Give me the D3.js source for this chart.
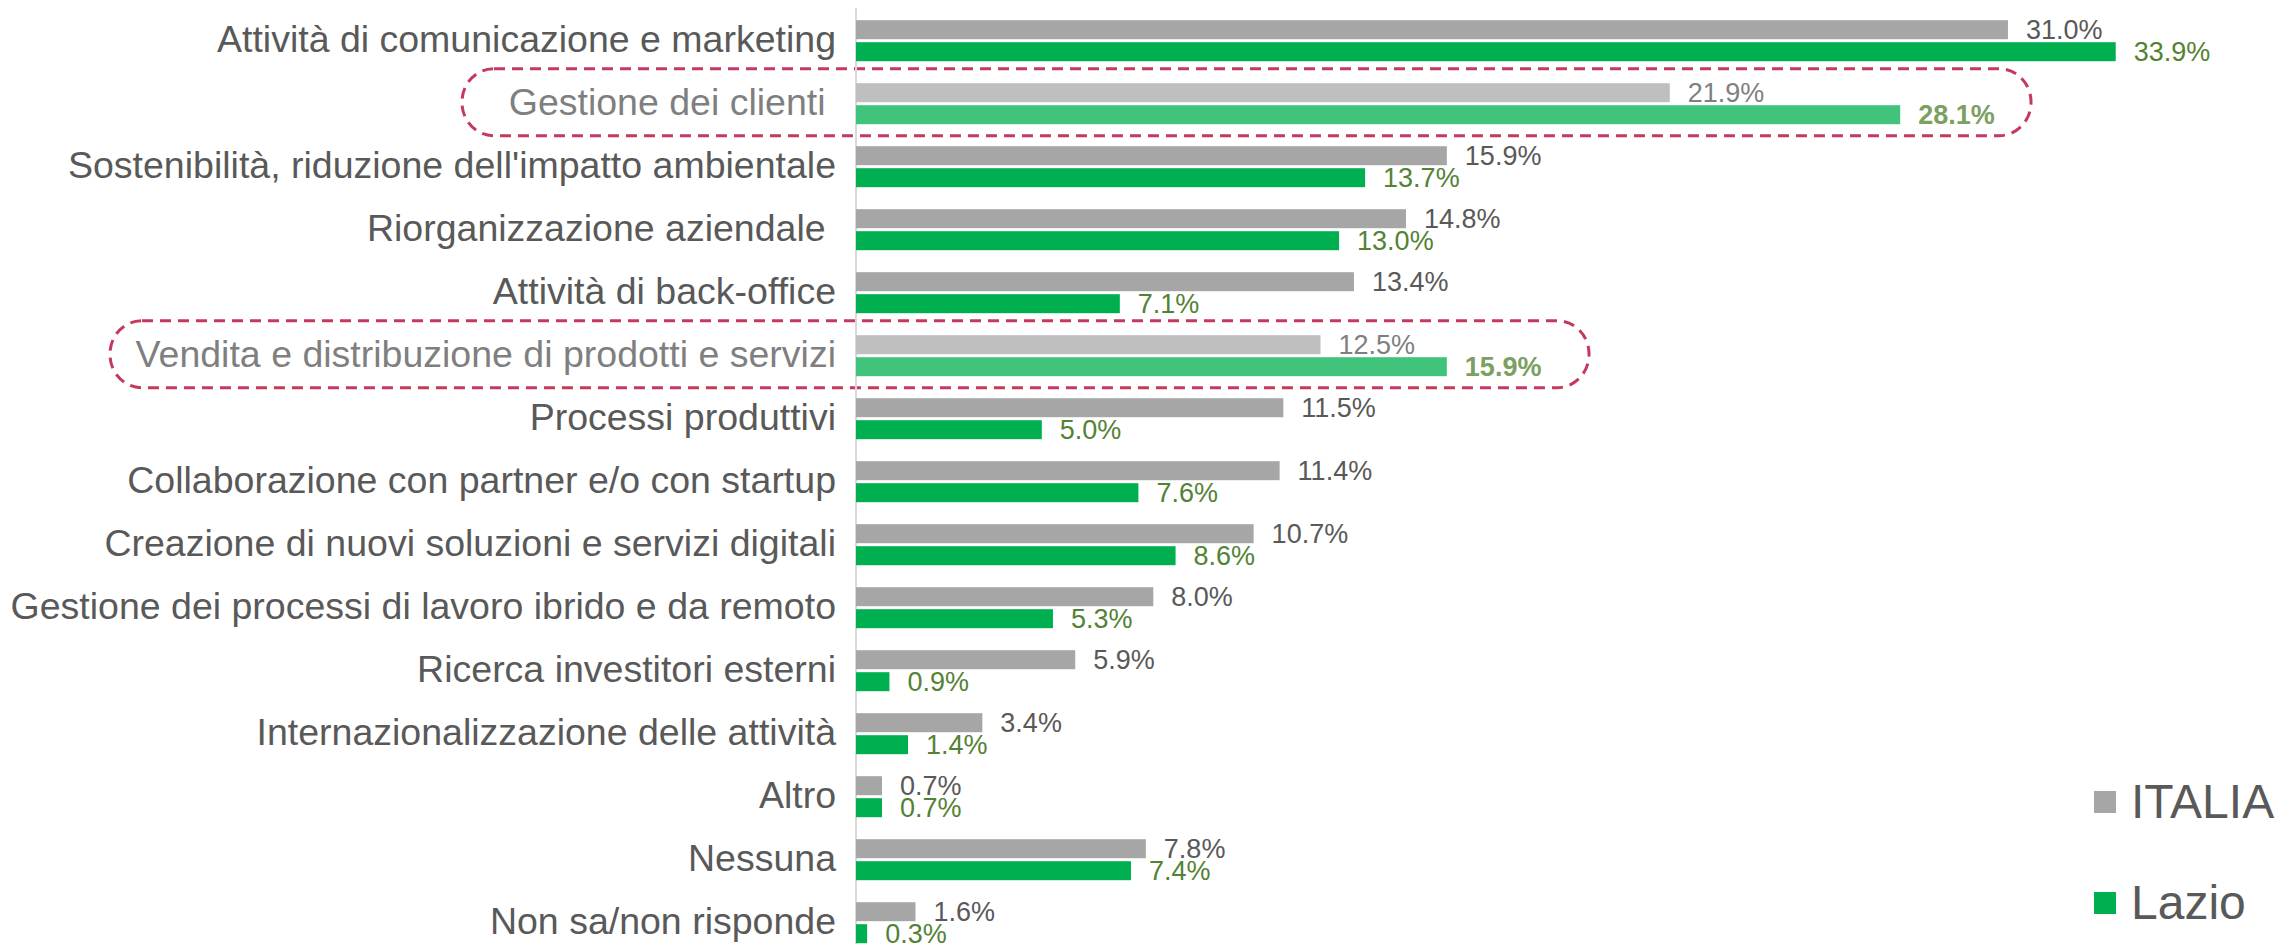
<!DOCTYPE html>
<html>
<head>
<meta charset="utf-8">
<script src="https://cdn.jsdelivr.net/npm/d3@7"></script>
<style>
  html, body { margin: 0; padding: 0; background: #fff; }
  svg { display: block; font-family: "Liberation Sans", Arial, sans-serif; }
  text { white-space: pre; }
</style>
</head>
<body>
<svg id="chart" width="2280" height="944"></svg>
<script>
// ---- data ----
const categories = [
  "Attività di comunicazione e marketing",
  "Gestione dei clienti ",
  "Sostenibilità, riduzione dell'impatto ambientale",
  "Riorganizzazione aziendale ",
  "Attività di back-office",
  "Vendita e distribuzione di prodotti e servizi",
  "Processi produttivi",
  "Collaborazione con partner e/o con startup",
  "Creazione di nuovi soluzioni e servizi digitali",
  "Gestione dei processi di lavoro ibrido e da remoto",
  "Ricerca investitori esterni",
  "Internazionalizzazione delle attività",
  "Altro",
  "Nessuna",
  "Non sa/non risponde"
];
const series = ["ITALIA", "Lazio"];
const italia = [31.0, 21.9, 15.9, 14.8, 13.4, 12.5, 11.5, 11.4, 10.7, 8.0, 5.9, 3.4, 0.7, 7.8, 1.6];
const lazio  = [33.9, 28.1, 13.7, 13.0, 7.1, 15.9, 5.0, 7.6, 8.6, 5.3, 0.9, 1.4, 0.7, 7.4, 0.3];
const highlighted = ["Gestione dei clienti ", "Vendita e distribuzione di prodotti e servizi"];

// ---- styles ----
const barColor = { ITALIA: "#A6A6A6", Lazio: "#00B050" };
const barColorHi = { ITALIA: "#BFBFBF", Lazio: "#40C47C" };
const valColor = { ITALIA: "#595959", Lazio: "#548235" };
const valColorHi = { ITALIA: "#7F7F7F", Lazio: "#7BA062" };
const labelColor = "#595959", labelColorHi = "#7F7F7F";

const svg = d3.select("#chart");
const axisX = 856;

const x = d3.scaleLinear().domain([0, 35]).range([axisX, axisX + 35 * 37.16]);
const y = d3.scaleBand().domain(categories).range([9.2, 9.2 + 63 * categories.length]).padding(0);
const ySub = d3.scaleBand().domain(series).range([0, y.bandwidth()]).paddingInner(3 / 22).paddingOuter(0.5);

const rows = categories.map((c, i) => ({ cat: c, hi: highlighted.includes(c), ITALIA: italia[i], Lazio: lazio[i] }));

// annotation boxes (behind)
const boxes = [
  { cat: "Gestione dei clienti ", left: 462, right: 2031 },
  { cat: "Vendita e distribuzione di prodotti e servizi", left: 110, right: 1589 }
];
svg.append("g").selectAll("rect").data(boxes).join("rect")
  .attr("x", d => d.left)
  .attr("y", d => y(d.cat) + y.bandwidth() / 2 - 35)
  .attr("width", d => d.right - d.left)
  .attr("height", 67)
  .attr("rx", 32).attr("ry", 33)
  .attr("fill", "none")
  .attr("stroke", "#C33A5C")
  .attr("stroke-width", 3)
  .attr("stroke-dasharray", "11 7");

// axis line
svg.append("line")
  .attr("x1", axisX).attr("x2", axisX)
  .attr("y1", 8).attr("y2", 944)
  .attr("stroke", "#D9D9D9").attr("stroke-width", 2);

// category labels
svg.append("g").selectAll("text").data(rows).join("text")
  .attr("x", axisX - 20)
  .attr("y", d => y(d.cat) + y.bandwidth() / 2)
  .attr("dy", "0.31em")
  .attr("text-anchor", "end")
  .attr("font-size", 37.5)
  .attr("fill", d => d.hi ? labelColorHi : labelColor)
  .text(d => d.cat);

// bars
const g = svg.append("g");
const groups = g.selectAll("g").data(rows).join("g")
  .attr("transform", d => `translate(0,${y(d.cat)})`);

groups.selectAll("rect").data(d => series.map(s => ({ s, v: d[s], hi: d.hi }))).join("rect")
  .attr("x", x(0))
  .attr("y", d => ySub(d.s))
  .attr("width", d => x(d.v) - x(0))
  .attr("height", ySub.bandwidth())
  .attr("fill", d => d.hi ? barColorHi[d.s] : barColor[d.s]);

groups.selectAll("text").data(d => series.map(s => ({ s, v: d[s], hi: d.hi }))).join("text")
  .attr("x", d => x(d.v) + 18)
  .attr("y", d => ySub(d.s) + ySub.bandwidth() / 2)
  .attr("dy", "0.36em")
  .attr("font-size", 27)
  .attr("font-weight", d => (d.hi && d.s === "Lazio") ? "bold" : "normal")
  .attr("fill", d => d.hi ? valColorHi[d.s] : valColor[d.s])
  .text(d => d.v.toFixed(1) + "%");

// legend
const legend = svg.append("g").selectAll("g").data(series).join("g")
  .attr("transform", (d, i) => `translate(2094,${802 + i * 101})`);
legend.append("rect")
  .attr("x", 0).attr("y", -11).attr("width", 22).attr("height", 22)
  .attr("fill", d => barColor[d]);
legend.append("text")
  .attr("x", 37).attr("y", 16)
  .attr("font-size", 48)
  .attr("fill", labelColor)
  .text(d => d);
</script>
</body>
</html>
